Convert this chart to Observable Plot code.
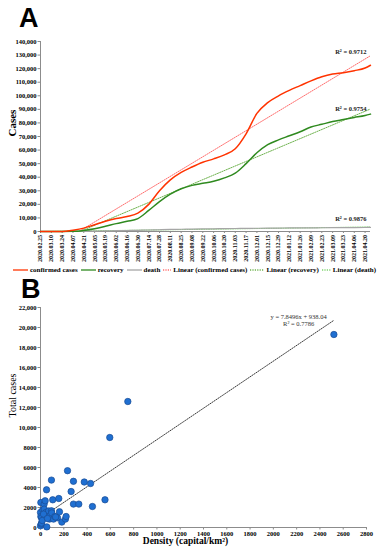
<!DOCTYPE html>
<html><head><meta charset="utf-8">
<script src="https://cdn.jsdelivr.net/npm/d3@7"></script>
<script src="https://cdn.jsdelivr.net/npm/@observablehq/plot@0.6"></script>
<style>
body{margin:0;background:#fff;width:380px;height:550px;position:relative;overflow:hidden;font-family:"Liberation Serif",serif;}
.panel{position:absolute;left:0;}
.letter{position:absolute;font-family:"Liberation Sans",Arial,sans-serif;font-weight:bold;font-size:27px;line-height:1;color:#000;}
#legend{position:absolute;left:13px;top:264px;width:367px;height:11px;display:flex;align-items:center;font:bold 7px "Liberation Serif",serif;white-space:nowrap;color:#000;}
#legend svg{display:block;margin-right:1px;}
#legend span.item{display:flex;align-items:center;margin-right:3px;}
</style></head><body>
<div id="chartA" class="panel" style="top:0"></div>
<div class="letter" style="left:19px;top:5px">A</div>
<div id="legend"></div>
<div id="chartB" class="panel" style="top:290px"></div>
<div class="letter" style="left:21px;top:276px">B</div>
<script>
// ---------- Panel A data ----------
const dateLabels = ["2020.02.25","2020.03.10","2020.03.24","2020.04.07","2020.04.21","2020.05.05","2020.05.19","2020.06.02","2020.06.16","2020.06.30","2020.07.14","2020.07.28","2020.08.11","2020.08.25","2020.09.08","2020.09.22","2020.10.06","2020.10.20","2020.11.03","2020.11.17","2020.12.01","2020.12.15","2020.12.29","2021.01.12","2021.01.26","2021.02.09","2021.02.23","2021.03.09","2021.03.23","2021.04.06","2021.04.20"];
const seriesDates = dateLabels.concat(["2021.04.27"]);
const confirmed = [0,0,50,1000,2500,5000,7500,9500,11000,13500,20000,30000,38000,43500,47500,51000,53500,56500,61000,72000,87000,95000,100000,104000,107500,111000,114000,116000,117000,118500,120500,122500];
const recovery  = [0,0,0,100,800,2000,3800,5800,7500,9500,15500,22000,27500,31500,34000,35500,37000,39500,43000,50000,58000,64000,67500,70500,73500,77000,79000,81000,82500,84000,85500,86500];
const death     = [0,0,0,50,150,300,450,600,750,900,1100,1300,1500,1650,1800,1900,2000,2100,2200,2300,2400,2500,2550,2600,2650,2700,2750,2800,2850,2900,2950,3000];
const yTicksA = [0,10000,20000,30000,40000,50000,60000,70000,80000,90000,100000,110000,120000,130000,140000];
const r2A = [
  {date:"2021.04.22", value:132000, label:"R² = 0.9712"},
  {date:"2021.04.22", value:90600,  label:"R² = 0.9754"},
  {date:"2021.04.22", value:9600,   label:"R² = 0.9876"}
];

// ---------- Panel B data ----------
const density = [0,0,3,3,6,9,9,20,31,32,40,43,47,52,54,60,70,77,82,94,94,97,105,112,123,146,157,163,183,214,220,232,263,283,283,329,376,430,446,554,595,750,2520,26,15,130,60];
const totalCases = [1500,170,2500,1100,340,970,440,1770,2340,1840,2670,970,1500,3770,60,1340,1650,840,1170,1670,4740,1460,2770,840,1100,970,2900,1570,540,840,1100,5680,3600,2340,4620,2340,4550,4400,2100,2770,9000,12600,19300,1340,700,1050,900];
const yTicksB = [0,2000,4000,6000,8000,10000,12000,14000,16000,18000,20000,22000];
const xTicksB = [0,200,400,600,800,1000,1200,1400,1600,1800,2000,2200,2400,2600,2800];
const trendSlope = 7.8496, trendIntercept = 938.04;
const trendRange = [0, 2520];
const eqLabels = ["y = 7.8496x + 938.04", "R² = 0.7786"];

// ---------- colours ----------
const C_CONF = "#ff3300", C_REC = "#2f8a1f", C_DEATH = "#a6a6a6";
const C_CONF_LIN = "#ff6f6f", C_REC_LIN = "#6fb34f", C_DEATH_LIN = "#7fd36f";

const parse = d3.utcParse("%Y.%m.%d");
const fmt = d3.utcFormat("%Y.%m.%d");
const rows = seriesDates.map((d,i)=>({date:parse(d), confirmed:confirmed[i], recovery:recovery[i], death:death[i]}));
const tickDates = dateLabels.map(parse);

const chartA = Plot.plot({
  width:380, height:268, marginTop:41, marginBottom:37, marginLeft:40, marginRight:10,
  style:{fontFamily:"Liberation Serif, serif", fontWeight:"bold", fontSize:"6.5px", background:"white", color:"#000"},
  x:{type:"utc", domain:[parse("2020.02.25"), parse("2021.04.27")]},
  y:{domain:[0,140000]},
  marks:[
    Plot.ruleX([parse("2020.02.25")], {stroke:"#8c8c8c"}),
    Plot.ruleY([0], {stroke:"#8c8c8c"}),
    Plot.axisY({ticks:yTicksA, tickFormat:d3.format(","), tickSize:2.5, tickPadding:1.5, stroke:"#8c8c8c", label:null, fontSize:6.5}),
    Plot.axisX({ticks:tickDates, tickFormat:fmt, tickRotate:-90, tickSize:2, tickPadding:1.5, stroke:"#8c8c8c", label:null, fontSize:6}),
    Plot.text(["Cases"], {frameAnchor:"left", rotate:-90, dx:-28, fontSize:11, fontWeight:"bold", fill:"#000"}),
    Plot.linearRegressionY(rows, {x:"date", y:"confirmed", stroke:C_CONF_LIN, strokeWidth:1, strokeDasharray:"1.2,1.2", ci:0, clip:true}),
    Plot.linearRegressionY(rows, {x:"date", y:"recovery", stroke:C_REC_LIN, strokeWidth:1, strokeDasharray:"1.2,1.2", ci:0, clip:true}),
    Plot.linearRegressionY(rows, {x:"date", y:"death", stroke:C_DEATH_LIN, strokeWidth:1, strokeDasharray:"1.2,1.2", ci:0, clip:true}),
    Plot.line(rows, {x:"date", y:"death", stroke:C_DEATH, strokeWidth:1.2, curve:"monotone-x"}),
    Plot.line(rows, {x:"date", y:"recovery", stroke:C_REC, strokeWidth:1.5, curve:"monotone-x"}),
    Plot.line(rows, {x:"date", y:"confirmed", stroke:C_CONF, strokeWidth:1.5, curve:"monotone-x"}),
    Plot.text(r2A, {x:d=>parse(d.date), y:"value", text:"label", textAnchor:"end", fontSize:6.5, fontWeight:"bold", fill:"#222"})
  ]
});
document.getElementById("chartA").appendChild(chartA);

// legend
const legendItems = [
  {label:"confirmed cases", color:C_CONF, dash:null, w:15},
  {label:"recovery", color:C_REC, dash:null, w:15},
  {label:"death", color:C_DEATH, dash:null, w:15},
  {label:"Linear (confirmed cases)", color:C_CONF_LIN, dash:"1.2,1.2", w:8},
  {label:"Linear (recovery)", color:C_REC_LIN, dash:"1.2,1.2", w:14},
  {label:"Linear (death)", color:C_DEATH_LIN, dash:"1.2,1.2", w:9}
];
const leg = document.getElementById("legend");
legendItems.forEach(it=>{
  const s = document.createElement("span"); s.className="item";
  s.innerHTML = `<svg width="${it.w+1}" height="6"><line x1="0" x2="${it.w}" y1="3" y2="3" stroke="${it.color}" stroke-width="1.3" ${it.dash?`stroke-dasharray="${it.dash}"`:""}/></svg>${it.label}`;
  leg.appendChild(s);
});

// ---------- Panel B ----------
const pts = density.map((d,i)=>({density:d, cases:totalCases[i]}));
const trend = trendRange.map(x=>({x, y:trendSlope*x+trendIntercept}));
const bFmt = d => d >= 10000 ? d3.format(",")(d) : String(d);

const chartB = Plot.plot({
  width:380, height:260, marginTop:17, marginBottom:23, marginLeft:40, marginRight:14,
  style:{fontFamily:"Liberation Serif, serif", fontWeight:"bold", fontSize:"6.5px", background:"white", color:"#000"},
  x:{domain:[0,2800]},
  y:{domain:[0,22000]},
  marks:[
    Plot.ruleX([0], {stroke:"#8c8c8c"}),
    Plot.ruleY([0], {stroke:"#8c8c8c"}),
    Plot.axisY({ticks:yTicksB, tickFormat:bFmt, tickSize:2.5, tickPadding:1.5, stroke:"#8c8c8c", label:null, fontSize:6.5}),
    Plot.axisX({ticks:xTicksB, tickFormat:d=>String(d), tickSize:2.5, tickPadding:1, stroke:"#8c8c8c", label:null, fontSize:6.5}),
    Plot.text(["Total cases"], {frameAnchor:"left", rotate:-90, dx:-28, fontSize:10, fontWeight:"normal", fill:"#000"}),
    Plot.text(["Density (capital/km²)"], {frameAnchor:"bottom", dy:16, dx:-18, fontSize:9.5, fontWeight:"bold", fill:"#000"}),
    Plot.line(trend, {x:"x", y:"y", stroke:"#222", strokeWidth:0.9, strokeDasharray:"1,1.3"}),
    Plot.dot(pts, {x:"density", y:"cases", r:3.2, fill:"#1f6fd1", stroke:"#1a4c93", strokeWidth:0.7}),
    Plot.text([eqLabels[0]], {x:[2217], y:[21100], fontSize:6.5, fontWeight:"normal", fill:"#333"}),
    Plot.text([eqLabels[1]], {x:[2217], y:[20350], fontSize:6.5, fontWeight:"normal", fill:"#333"})
  ]
});
document.getElementById("chartB").appendChild(chartB);
</script>
</body></html>
